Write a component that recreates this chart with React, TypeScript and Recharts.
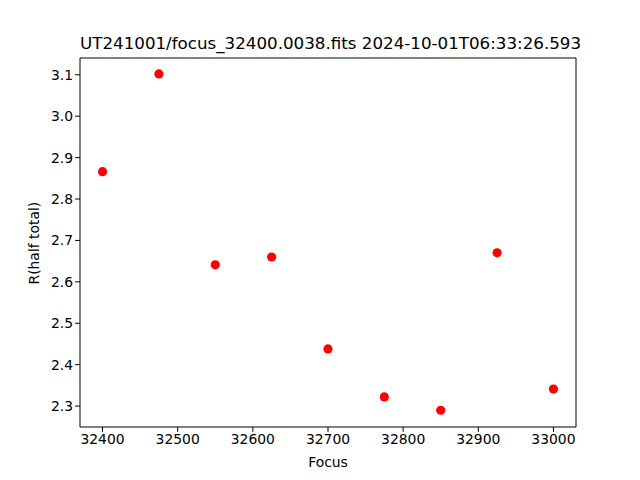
import { ScatterChart, Scatter, XAxis, YAxis, ReferenceLine } from 'recharts';

const focusValues = [32400, 32475, 32550, 32625, 32700, 32775, 32850, 32925, 33000];
const halfTotal = [2.866, 3.102, 2.641, 2.660, 2.438, 2.322, 2.290, 2.670, 2.341];
const xTicks = [32400, 32500, 32600, 32700, 32800, 32900, 33000];
const yTicks = [2.3, 2.4, 2.5, 2.6, 2.7, 2.8, 2.9, 3.0, 3.1];

const X_DOMAIN = [32370, 33030];
const Y_DOMAIN = [2.2495, 3.1405];

const data = focusValues.map((focus, i) => ({ focus, r: halfTotal[i] }));

const FONT = '"DejaVu Sans", sans-serif';
const tickStyle = { fontSize: 13.9, fill: '#000', fontFamily: FONT };

export default function App() {
  return (
    <div style={{ position: 'absolute', left: 0, top: 0, width: 640, height: 480, background: '#fff' }}>
      <div
        style={{
          position: 'absolute',
          left: 80,
          width: 496,
          top: 33,
          textAlign: 'center',
          fontFamily: FONT,
          fontSize: 16.7,
          whiteSpace: 'nowrap',
          color: '#000',
        }}
      >
        UT241001/focus_32400.0038.fits 2024-10-01T06:33:26.593
      </div>
      <ScatterChart width={640} height={480} margin={{ top: 58, right: 64, bottom: 23, left: 20 }}>
        <XAxis
          type="number"
          dataKey="focus"
          domain={X_DOMAIN}
          ticks={xTicks}
          allowDataOverflow
          stroke="#000"
          tickSize={4.9}
          tick={tickStyle}
          height={30}
          label={{ value: 'Focus', position: 'insideBottom', offset: -10, style: { fontSize: 13.9, fontFamily: FONT, fill: '#000' } }}
        />
        <YAxis
          type="number"
          dataKey="r"
          domain={Y_DOMAIN}
          ticks={yTicks}
          allowDataOverflow
          stroke="#000"
          tickSize={4.9}
          tick={tickStyle}
          tickFormatter={(v: number) => v.toFixed(1)}
          width={60}
          label={{ value: 'R(half total)', angle: -90, position: 'insideLeft', offset: 14, dy: 42, style: { fontSize: 13.9, fontFamily: FONT, fill: '#000' } }}
        />
        <ReferenceLine y={Y_DOMAIN[1]} stroke="#000" ifOverflow="visible" />
        <ReferenceLine x={X_DOMAIN[1]} stroke="#000" ifOverflow="visible" />
        <Scatter
          data={data}
          fill="#ff0000"
          isAnimationActive={false}
          shape={(props: any) => <circle cx={props.cx} cy={props.cy} r={4.6} fill="#ff0000" />}
        />
      </ScatterChart>
    </div>
  );
}
